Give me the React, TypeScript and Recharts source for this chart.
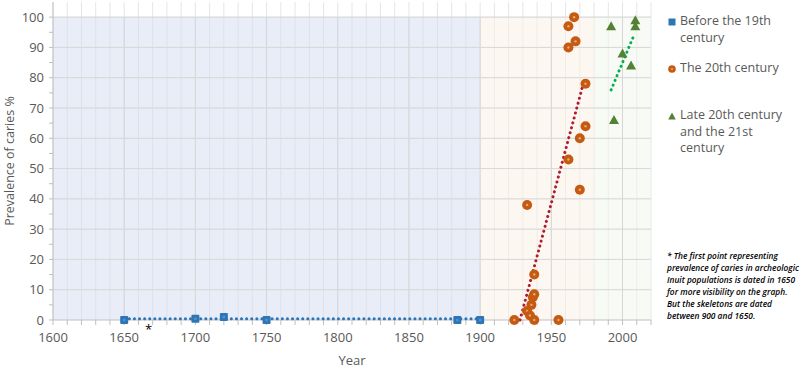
import React from 'react';
import {
  ScatterChart,
  Scatter,
  XAxis,
  YAxis,
  CartesianGrid,
  ReferenceArea,
  ReferenceLine,
} from 'recharts';

// Before the 19th century
const earlyYears = [1650, 1700, 1720, 1750, 1884, 1900];
const earlyValues = [0, 0.4, 1, 0, 0, 0];

// The 20th century
const midYears = [1924, 1933, 1933, 1935, 1936, 1937, 1938, 1938, 1938, 1955, 1962, 1962, 1962, 1966, 1967, 1970, 1970, 1974, 1974];
const midValues = [0, 38, 3, 1.5, 5, 7.5, 8.5, 15, 0, 0, 53, 90, 97, 100, 92, 60, 43, 64, 78];

// Late 20th century and the 21st century
const lateYears = [1992, 1994, 2000, 2006, 2009, 2009];
const lateValues = [97, 66, 88, 84, 99, 97];

// trendline end points
const earlyTrendYears = [1650, 1900];
const earlyTrendValues = [0.4, 0.4];
const midTrendYears = [1928, 1973];
const midTrendValues = [0, 79];
const lateTrendYears = [1992, 2008];
const lateTrendValues = [76, 94];

const majorYears = [1650, 1700, 1750, 1800, 1850, 1900, 1950, 2000];
const yearTicks = Array.from({ length: 43 }, (_, i) => 1600 + i * 10);
const valueTicks = Array.from({ length: 21 }, (_, i) => i * 5);
const gridValues = [10, 20, 30, 40, 50, 60, 70, 80, 90, 100];

const toPoints = (xs: number[], ys: number[]) => xs.map((year, i) => ({ year, value: ys[i] }));

const BLUE = '#2E75B6';
const ORANGE = '#C55A11';
const GREEN = '#548235';
const TEXT = '#595959';
const FONT = '"Open Sans", "Noto Sans", sans-serif';

const SquareDot = (p: any) => (
  <g>
    <rect x={p.cx - 4} y={p.cy - 4} width={8} height={8} rx={1} fill={BLUE} />
    <rect x={p.cx - 1.2} y={p.cy - 1.2} width={2.4} height={2.4} fill="#5B8FC8" />
  </g>
);

const RoundDot = (p: any) => (
  <g>
    <circle cx={p.cx} cy={p.cy} r={5} fill={ORANGE} />
    <circle cx={p.cx} cy={p.cy} r={1.2} fill="#E8A67A" />
  </g>
);

const TriangleDot = (p: any) => (
  <polygon
    points={`${p.cx},${p.cy - 5} ${p.cx + 5},${p.cy + 4} ${p.cx - 5},${p.cy + 4}`}
    fill={GREEN}
  />
);

const NoDot = () => <g />;

const dotted = (color: string) => ({
  stroke: color,
  strokeWidth: 3,
  strokeDasharray: '0.1 5',
  strokeLinecap: 'round' as const,
});

const legendItems = [
  { lines: ['Before the 19th', 'century'], marker: 'square', top: 13 },
  { lines: ['The 20th century'], marker: 'circle', top: 60 },
  { lines: ['Late 20th century', 'and the 21st', 'century'], marker: 'triangle', top: 107 },
];

const footnote = [
  '* The first point representing',
  'prevalence of caries in archeologic',
  'Inuit populations is dated in 1650',
  'for more visibility on the graph.',
  'But the skeletons are dated',
  'between 900 and 1650.',
];

const LegendMarker = ({ kind }: { kind: string }) => (
  <svg width={8} height={8} style={{ position: 'absolute', left: 2, top: 5 }}>
    {kind === 'square' && <rect x={0.5} y={0.5} width={7} height={7} fill={BLUE} />}
    {kind === 'circle' && (
      <g>
        <circle cx={4} cy={4} r={3.8} fill={ORANGE} />
        <circle cx={4} cy={4} r={1} fill="#E8A67A" />
      </g>
    )}
    {kind === 'triangle' && <polygon points="4,0.5 7.8,7.5 0.2,7.5" fill={GREEN} />}
  </svg>
);

export default function App() {
  return (
    <div style={{ position: 'absolute', left: 0, top: 0, width: 800, height: 370, background: '#fff', fontFamily: FONT }}>
      <ScatterChart width={800} height={370} margin={{ top: 2, right: 149, bottom: 2, left: 20 }}>
        <ReferenceArea x1={1600} x2={1900} y1={0} y2={100} fill="#D3DCF0" fillOpacity={0.5} stroke="none" />
        <ReferenceArea x1={1900} x2={1980} y1={0} y2={100} fill="#FBF0E6" fillOpacity={0.5} stroke="none" />
        <ReferenceArea x1={1980} x2={2020} y1={0} y2={100} fill="#F2F7EC" fillOpacity={0.5} stroke="none" />
        <CartesianGrid
          stroke="#E6E6E6"
          horizontalValues={gridValues}
          verticalValues={yearTicks}
        />
        {majorYears.map((y) => (
          <ReferenceLine key={y} segment={[{ x: y, y: 0 }, { x: y, y: 100 }]} stroke="#D6D6D6" />
        ))}
        {gridValues.map((v) => (
          <ReferenceLine key={'h' + v} y={v} stroke="#D9D9D9" />
        ))}
        <XAxis
          type="number"
          dataKey="year"
          domain={[1600, 2020]}
          ticks={yearTicks}
          interval={0}
          tickFormatter={(v: number) => (v % 50 === 0 ? String(v) : '')}
          tick={{ fill: TEXT, fontSize: 13 }}
          tickSize={5}
          tickMargin={8}
          stroke="#BFBFBF"
          height={48}
          label={{ value: 'Year', position: 'insideBottom', offset: 3, fill: TEXT, fontSize: 13 }}
        />
        <YAxis
          type="number"
          dataKey="value"
          domain={[0, 105]}
          ticks={valueTicks}
          interval={0}
          tickFormatter={(v: number) => (v % 10 === 0 ? String(v) : '')}
          tick={{ fill: TEXT, fontSize: 13 }}
          tickSize={4}
          tickMargin={5}
          stroke="#BFBFBF"
          width={33}
          label={{ value: 'Prevalence of caries %', angle: -90, position: 'insideLeft', offset: -10, fill: TEXT, fontSize: 12.5, style: { textAnchor: 'middle' } }}
        />
        <Scatter data={toPoints(earlyTrendYears, earlyTrendValues)} line={dotted(BLUE)} shape={NoDot} isAnimationActive={false} />
        <Scatter data={toPoints(midTrendYears, midTrendValues)} line={dotted('#B01C2E')} shape={NoDot} isAnimationActive={false} />
        <Scatter data={toPoints(lateTrendYears, lateTrendValues)} line={dotted('#00B050')} shape={NoDot} isAnimationActive={false} />
        <Scatter name="Before the 19th century" data={toPoints(earlyYears, earlyValues)} shape={SquareDot} isAnimationActive={false} />
        <Scatter name="The 20th century" data={toPoints(midYears, midValues)} shape={RoundDot} isAnimationActive={false} />
        <Scatter name="Late 20th century and the 21st century" data={toPoints(lateYears, lateValues)} shape={TriangleDot} isAnimationActive={false} />
      </ScatterChart>

      <div style={{ position: 'absolute', left: 145, top: 320, fontSize: 13, color: '#000' }}>*</div>

      {legendItems.map((item) => (
        <div key={item.lines[0]} style={{ position: 'absolute', left: 666, top: item.top, paddingLeft: 14, fontSize: 12.5, lineHeight: '16.5px', color: TEXT }}>
          <LegendMarker kind={item.marker} />
          {item.lines.map((l) => (
            <div key={l} style={{ whiteSpace: 'nowrap' }}>{l}</div>
          ))}
        </div>
      ))}

      <div style={{ position: 'absolute', left: 667, top: 250, fontSize: 9.5, lineHeight: '12px', fontStyle: 'italic', fontWeight: 600, color: '#000', transform: 'scaleX(0.88)', transformOrigin: 'left top' }}>
        {footnote.map((l) => (
          <div key={l} style={{ whiteSpace: 'nowrap', height: 12 }}>{l}</div>
        ))}
      </div>
    </div>
  );
}
